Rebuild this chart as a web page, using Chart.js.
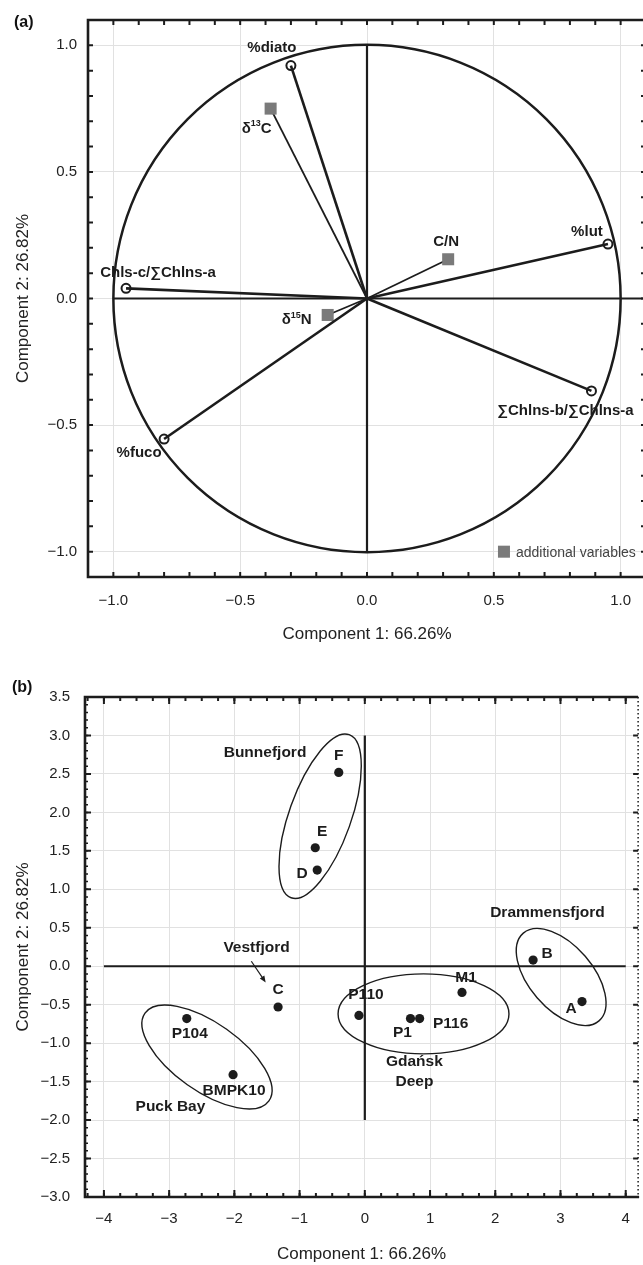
<!DOCTYPE html>
<html>
<head>
<meta charset="utf-8">
<script src="https://cdn.jsdelivr.net/npm/chart.js@4.4.0/dist/chart.umd.min.js"></script>
<style>
  html, body { margin: 0; padding: 0; background: #fff; overflow: hidden; }
  #wrapA { position: absolute; left: 0; top: 0; width: 700px; height: 645px; }
  #wrapB { position: absolute; left: 0; top: 645px; width: 643px; height: 620px; }
  .tag { position: absolute; font: bold 16px "Liberation Sans", Arial, sans-serif; line-height: 1; color: #111; }
</style>
</head>
<body>
<div id="wrapA"><canvas id="pcaA" width="700" height="645"></canvas></div>
<div id="wrapB"><canvas id="pcaB" width="643" height="620"></canvas></div>
<div class="tag" style="left:14px;top:14px">(a)</div>
<div class="tag" style="left:12px;top:679px">(b)</div>
<script>
// (a) loadings of the active variables
var varNames = ['%diato', 'Chls-c/∑Chlns-a', '%fuco', '%lut', '∑Chlns-b/∑Chlns-a'];
var varPC1 = [-0.30, -0.95, -0.80, 0.95, 0.885];
var varPC2 = [0.92, 0.04, -0.555, 0.215, -0.365];

// (a) additional (supplementary) variables
var suppNames = ['δ13C', 'δ15N', 'C/N'];
var suppPC1 = [-0.38, -0.155, 0.32];
var suppPC2 = [0.75, -0.065, 0.155];

// (b) site scores
var siteNames = ['F', 'E', 'D', 'C', 'P104', 'BMPK10', 'P110', 'P1', 'P116', 'M1', 'B', 'A'];
var sitePC1 = [-0.40, -0.76, -0.73, -1.33, -2.73, -2.02, -0.09, 0.70, 0.84, 1.49, 2.58, 3.33];
var sitePC2 = [2.52, 1.54, 1.25, -0.53, -0.68, -1.41, -0.64, -0.68, -0.68, -0.34, 0.08, -0.46];

// tick labels
var ticksA = [-1.0, -0.5, 0.0, 0.5, 1.0];
var ticksBx = [-4, -3, -2, -1, 0, 1, 2, 3, 4];
var ticksBy = [-3.0, -2.5, -2.0, -1.5, -1.0, -0.5, 0.0, 0.5, 1.0, 1.5, 2.0, 2.5, 3.0, 3.5];

// axis reference lines through the origin
var axisLinesA = [[[-1, 0], [1.1, 0]], [[0, -1], [0, 1]]];
var axisLinesB = [[[-4, 0], [4, 0]], [[0, -2], [0, 3]]];

// groups in (b): centre, end of major axis, end of minor axis
var groupNames = ['Bunnefjord', 'Vestfjord', 'Puck Bay', 'Gdańsk\nDeep', 'Drammensfjord'];
var groupLabelX = [-1.53, -1.66, -2.98, 0.76, 2.80];
var groupLabelY = [2.78, 0.24, -1.83, -1.37, 0.69];
var ellipses = [
  { c: [-0.685, 1.95], a: [-0.24, 3.01], b: [-0.24, 1.81] },
  { c: [-2.42, -1.18], a: [-1.47, -1.75], b: [-2.715, -1.545] },
  { c: [0.90, -0.62], a: [2.21, -0.62], b: [0.90, -0.10] },
  { c: [3.01, -0.14], a: [3.59, -0.71], b: [3.376, 0.133] }
];
var vestfjordArrow = { from: [-1.74, 0.065], to: [-1.52, -0.21] };

var FONT = '"Liberation Sans", Arial, sans-serif';
var INK = '#1c1c1c';

function fmt1(v) { return (v < 0 ? '\u2212' : '') + Math.abs(v).toFixed(1); }
function fmt0(v) { return (v < 0 ? '\u2212' : '') + Math.abs(v).toFixed(0); }

// text with δ13C style superscripts
function drawRich(ctx, text, cx, cy, size) {
  var m = /^δ(\d+)(.*)$/.exec(text);
  ctx.textBaseline = 'middle';
  if (!m) {
    ctx.font = 'bold ' + size + 'px ' + FONT;
    ctx.textAlign = 'center';
    ctx.fillText(text, cx, cy);
    return;
  }
  var big = 'bold ' + size + 'px ' + FONT, small = 'bold ' + Math.round(size * 0.6) + 'px ' + FONT;
  ctx.font = big; var w1 = ctx.measureText('δ').width, w3 = ctx.measureText(m[2]).width;
  ctx.font = small; var w2 = ctx.measureText(m[1]).width;
  var x = cx - (w1 + w2 + w3) / 2;
  ctx.textAlign = 'left';
  ctx.font = big; ctx.fillText('δ', x, cy);
  ctx.font = small; ctx.fillText(m[1], x + w1, cy - size * 0.32);
  ctx.font = big; ctx.fillText(m[2], x + w1 + w2, cy);
}

function line(points, width) {
  return {
    data: points.map(function (p) { return { x: p[0], y: p[1] }; }),
    showLine: true, borderColor: INK, borderWidth: width, pointRadius: 0, fill: false
  };
}

var frame = {
  id: 'frame',
  beforeDatasetsDraw: function (chart, args, o) {
    var ctx = chart.ctx, xs = chart.scales.x, ys = chart.scales.y;
    ctx.save();
    ctx.strokeStyle = INK;
    if (o.circle) {
      var cx = xs.getPixelForValue(0), cy = ys.getPixelForValue(0);
      ctx.beginPath();
      ctx.arc(cx, cy, xs.getPixelForValue(1) - cx, 0, Math.PI * 2);
      ctx.lineWidth = 2.5;
      ctx.stroke();
    }
    (o.ellipses || []).forEach(function (e) {
      var c = [xs.getPixelForValue(e.c[0]), ys.getPixelForValue(e.c[1])];
      var a = [xs.getPixelForValue(e.a[0]), ys.getPixelForValue(e.a[1])];
      var b = [xs.getPixelForValue(e.b[0]), ys.getPixelForValue(e.b[1])];
      ctx.beginPath();
      ctx.ellipse(c[0], c[1], Math.hypot(a[0] - c[0], a[1] - c[1]), Math.hypot(b[0] - c[0], b[1] - c[1]),
        Math.atan2(a[1] - c[1], a[0] - c[0]), 0, Math.PI * 2);
      ctx.lineWidth = 1.4;
      ctx.stroke();
    });
    ctx.restore();
  },
  afterDatasetsDraw: function (chart, args, o) {
    var ctx = chart.ctx, xs = chart.scales.x, ys = chart.scales.y, ca = chart.chartArea;
    ctx.save();
    ctx.strokeStyle = INK;
    ctx.lineCap = 'butt';
    (o.ticks || []).forEach(function (t) {
      var horiz = t.side === 'top' || t.side === 'bottom';
      var s = horiz ? xs : ys;
      var i0 = Math.ceil(s.min / t.step - 1e-6), i1 = Math.floor(s.max / t.step + 1e-6);
      ctx.lineWidth = t.width || 2;
      ctx.beginPath();
      for (var i = i0; i <= i1; i++) {
        var p = s.getPixelForValue(i * t.step);
        if (t.side === 'bottom') { ctx.moveTo(p, ca.bottom); ctx.lineTo(p, ca.bottom - t.len); }
        if (t.side === 'top') { ctx.moveTo(p, ca.top); ctx.lineTo(p, ca.top + t.len); }
        if (t.side === 'left') { ctx.moveTo(ca.left, p); ctx.lineTo(ca.left + t.len, p); }
        if (t.side === 'right') { ctx.moveTo(ca.right, p); ctx.lineTo(ca.right - t.len, p); }
      }
      ctx.stroke();
    });
    ctx.lineWidth = 2.6;
    ctx.beginPath();
    ctx.moveTo(ca.right + (o.dottedRight ? 0 : 1), ca.top);
    ctx.lineTo(ca.left, ca.top);
    ctx.lineTo(ca.left, ca.bottom);
    ctx.lineTo(ca.right + 1, ca.bottom);
    if (!o.dottedRight) ctx.lineTo(ca.right, ca.top);
    ctx.stroke();
    if (o.dottedRight) {
      ctx.lineWidth = 1.5;
      ctx.setLineDash([1.5, 2.5]);
      ctx.beginPath();
      ctx.moveTo(ca.right, ca.top);
      ctx.lineTo(ca.right, ca.bottom);
      ctx.stroke();
    }
    ctx.restore();
  }
};

var notes = {
  id: 'notes',
  afterDatasetsDraw: function (chart, args, o) {
    var ctx = chart.ctx, xs = chart.scales.x, ys = chart.scales.y;
    ctx.save();
    ctx.fillStyle = INK;
    ctx.strokeStyle = INK;
    (o.items || []).forEach(function (it) {
      var x = xs.getPixelForValue(it.x) + (it.dx || 0), y = ys.getPixelForValue(it.y) + (it.dy || 0);
      var rows = it.text.split('\n');
      rows.forEach(function (r, k) {
        drawRich(ctx, r, x, y + (k - (rows.length - 1) / 2) * o.size * 1.25, o.size);
      });
    });
    if (o.arrow) {
      var x1 = xs.getPixelForValue(o.arrow.from[0]), y1 = ys.getPixelForValue(o.arrow.from[1]);
      var x2 = xs.getPixelForValue(o.arrow.to[0]), y2 = ys.getPixelForValue(o.arrow.to[1]);
      var ang = Math.atan2(y2 - y1, x2 - x1);
      ctx.lineWidth = 1.2;
      ctx.beginPath(); ctx.moveTo(x1, y1); ctx.lineTo(x2 - 4 * Math.cos(ang), y2 - 4 * Math.sin(ang)); ctx.stroke();
      ctx.beginPath();
      ctx.moveTo(x2, y2);
      ctx.lineTo(x2 - 7 * Math.cos(ang - 0.4), y2 - 7 * Math.sin(ang - 0.4));
      ctx.lineTo(x2 - 7 * Math.cos(ang + 0.4), y2 - 7 * Math.sin(ang + 0.4));
      ctx.closePath(); ctx.fill();
    }
    if (o.legend) {
      var lx = xs.getPixelForValue(o.legend.x), ly = ys.getPixelForValue(o.legend.y);
      ctx.fillStyle = '#7a7a7a';
      ctx.fillRect(lx - 6, ly - 6, 12, 12);
      ctx.fillStyle = '#444';
      ctx.font = '14px ' + FONT;
      ctx.textAlign = 'left';
      ctx.textBaseline = 'middle';
      ctx.fillText(o.legend.text, lx + 12, ly + 1);
    }
    ctx.restore();
  }
};

function axis(min, max, tickVals, fmt, fixed, tickPad, titleText, titlePad) {
  return {
    type: 'linear', min: min, max: max,
    afterFit: function (s) { if (s.isHorizontal()) s.height = fixed; else s.width = fixed; },
    afterBuildTicks: function (s) { s.ticks = tickVals.map(function (v) { return { value: v }; }); },
    ticks: { callback: fmt, padding: tickPad, color: '#222', font: { family: FONT, size: 15 } },
    grid: { color: '#e1e1e1', lineWidth: 1, drawTicks: false },
    border: { display: false },
    title: { display: true, text: titleText, color: '#222', font: { family: FONT, size: 17 }, padding: titlePad }
  };
}

// ---------- panel (a)
var dsA = axisLinesA.map(function (l) { return line(l, 2.2); });
varNames.forEach(function (n, i) {
  var d = line([[0, 0], [varPC1[i], varPC2[i]]], 2.6);
  d.pointRadius = [0, 4.5];
  d.pointBorderWidth = 2;
  d.pointBorderColor = INK;
  d.pointBackgroundColor = 'rgba(255,255,255,0)';
  dsA.push(d);
});
suppNames.forEach(function (n, i) {
  var d = line([[0, 0], [suppPC1[i], suppPC2[i]]], 1.8);
  d.pointRadius = [0, 8.5];
  d.pointStyle = 'rect';
  d.pointBorderWidth = 0;
  d.pointBackgroundColor = '#7a7a7a';
  dsA.push(d);
});

var shiftA = {
  '%diato': [-19, -18], 'Chls-c/∑Chlns-a': [32, -16], '%fuco': [-25, 14], '%lut': [-21, -12],
  '∑Chlns-b/∑Chlns-a': [-26, 20], 'δ13C': [-14, 20], 'δ15N': [-31, 5], 'C/N': [-2, -17]
};
var itemsA = [];
varNames.forEach(function (n, i) { itemsA.push({ text: n, x: varPC1[i], y: varPC2[i], dx: shiftA[n][0], dy: shiftA[n][1] }); });
suppNames.forEach(function (n, i) { itemsA.push({ text: n, x: suppPC1[i], y: suppPC2[i], dx: shiftA[n][0], dy: shiftA[n][1] }); });

new Chart(document.getElementById('pcaA'), {
  type: 'scatter',
  data: { datasets: dsA },
  options: {
    responsive: false, animation: false,
    layout: { padding: { left: 0, top: 18, right: 54, bottom: 0 } },
    plugins: {
      legend: { display: false }, tooltip: { enabled: false },
      frame: {
        circle: true,
        ticks: [
          { side: 'bottom', step: 0.1, len: 5 }, { side: 'top', step: 0.1, len: 5 },
          { side: 'left', step: 0.1, len: 5 }, { side: 'right', step: 0.1, len: 5 }
        ]
      },
      notes: { size: 15, items: itemsA, legend: { x: 0.54, y: -1.0, text: 'additional variables' } }
    },
    scales: {
      x: axis(-1.1, 1.1, ticksA, fmt1, 68, 15, 'Component 1: 66.26%', { top: 4, bottom: 0 }),
      y: axis(-1.1, 1.1, ticksA, fmt1, 88, 11, 'Component 2: 26.82%', { top: 13, bottom: 4 })
    }
  },
  plugins: [frame, notes]
});

// ---------- panel (b)
var dsB = axisLinesB.map(function (l) { return line(l, 2.2); });
dsB.push({
  data: siteNames.map(function (n, i) { return { x: sitePC1[i], y: sitePC2[i] }; }),
  pointRadius: 4.6, pointBackgroundColor: INK, pointBorderWidth: 0
});

var shiftB = {
  F: [0, -17], E: [7, -16], D: [-15, 4], C: [0, -17], P104: [3, 15], BMPK10: [1, 16],
  P110: [7, -21], P1: [-8, 14], P116: [31, 5], M1: [4, -15], B: [14, -6], A: [-11, 7]
};
var itemsB = [];
siteNames.forEach(function (n, i) { itemsB.push({ text: n, x: sitePC1[i], y: sitePC2[i], dx: shiftB[n][0], dy: shiftB[n][1] }); });
groupNames.forEach(function (n, i) { itemsB.push({ text: n, x: groupLabelX[i], y: groupLabelY[i] }); });

new Chart(document.getElementById('pcaB'), {
  type: 'scatter',
  data: { datasets: dsB },
  options: {
    responsive: false, animation: false,
    layout: { padding: { left: 0, top: 52, right: 1, bottom: 0 } },
    plugins: {
      legend: { display: false }, tooltip: { enabled: false },
      frame: {
        ellipses: ellipses, dottedRight: true,
        ticks: [
          { side: 'bottom', step: 0.25, len: 4 }, { side: 'bottom', step: 1, len: 7 },
          { side: 'top', step: 0.25, len: 4 }, { side: 'top', step: 1, len: 7 },
          { side: 'left', step: 0.1, len: 3, width: 1.5 }, { side: 'left', step: 0.5, len: 6 },
          { side: 'right', step: 0.5, len: 5 }
        ]
      },
      notes: { size: 15.5, items: itemsB, arrow: vestfjordArrow }
    },
    scales: {
      x: axis(-4.29, 4.19, ticksBx, fmt0, 68, 13, 'Component 1: 66.26%', { top: 4, bottom: 0 }),
      y: axis(-3.0, 3.5, ticksBy, fmt1, 85, 15, 'Component 2: 26.82%', { top: 13, bottom: 4 })
    }
  },
  plugins: [frame, notes]
});
</script>
</body>
</html>
